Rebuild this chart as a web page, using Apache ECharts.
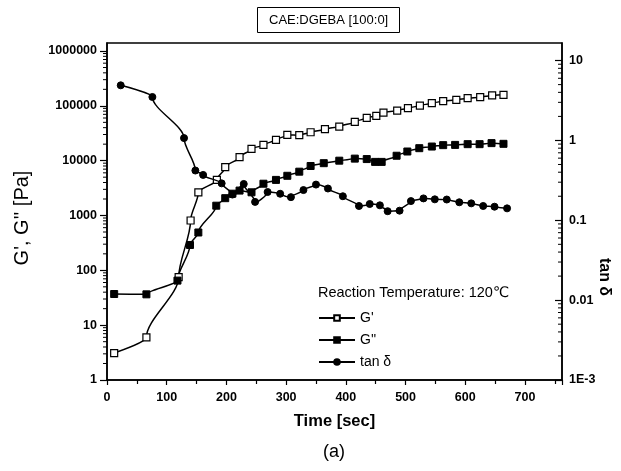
<!DOCTYPE html>
<html><head><meta charset="utf-8">
<script src="https://cdn.jsdelivr.net/npm/echarts@6/dist/echarts.min.js"></script>
<style>html,body{margin:0;padding:0;background:#fff}#c{width:621px;height:471px}</style>
</head><body><div id="c"></div>
<script>
// ---- data ----
const gPrimeTime = [12, 66, 120, 140, 153, 184, 198, 222, 242, 262, 283, 302, 322, 341, 365, 389, 415, 435, 451, 463, 486, 504, 524, 544, 563, 585, 604, 625, 645, 664];
const gPrime = [3.1, 6.0, 75, 810, 2650, 4450, 7600, 11600, 16400, 19400, 24000, 29500, 29200, 33000, 37600, 41900, 51000, 60400, 65700, 75400, 82000, 90800, 101000, 112000, 122000, 129000, 138000, 144000, 155000, 159000];

const gDoubleTime = [12, 66, 118, 139, 153, 183, 198, 210, 222, 242, 262, 283, 302, 322, 341, 363, 389, 415, 435, 449, 460, 485, 503, 523, 544, 563, 583, 604, 624, 644, 664];
const gDouble = [37, 36.5, 65, 290, 490, 1510, 2070, 2500, 2850, 2650, 3800, 4460, 5300, 6300, 8000, 9000, 10000, 10900, 10700, 9500, 9500, 12300, 14700, 16900, 18100, 19200, 19400, 20000, 20000, 20900, 20300];

const tanTime = [23, 76, 129, 148, 161, 192, 210, 229, 248, 269, 290, 308, 329, 350, 370, 395, 422, 440, 457, 470, 490, 509, 530, 549, 569, 590, 610, 630, 649, 670];
const tanDelta = [4.9, 3.5, 1.07, 0.42, 0.37, 0.29, 0.21, 0.285, 0.17, 0.226, 0.215, 0.195, 0.239, 0.28, 0.25, 0.2, 0.151, 0.16, 0.154, 0.13, 0.132, 0.174, 0.188, 0.183, 0.182, 0.168, 0.163, 0.151, 0.148, 0.141];

const seriesNames = ["G'", "G''", "tan \u03b4"];
const xTickLabels = [0, 100, 200, 300, 400, 500, 600, 700];
const leftTickLabels = ['1', '10', '100', '1000', '10000', '100000', '1000000'];
const rightTickLabels = ['1E-3', '0.01', '0.1', '1', '10'];
const leftMinor = [];
for (let k = 0; k <= 5; k++) for (let m = 2; m <= 9; m++) leftMinor.push(m * Math.pow(10, k));
const rightMinor = [];
for (let k = -3; k <= 0; k++) for (let m = 2; m <= 9; m++) rightMinor.push(+(m * Math.pow(10, k)).toPrecision(3));

const X_MAX = 762;
const FONT = '"Liberation Sans", Arial, "DejaVu Sans", sans-serif';

function pairs(xs, ys) { return xs.map((x, i) => [x, ys[i]]); }
function logLabel(v, labels, minExp) {
  const e = Math.round(Math.log10(v));
  if (Math.abs(Math.log10(v) - e) > 1e-6) return '';
  return labels[e - minExp] || '';
}
function minorTick(params, api) {
  const p = api.coord([api.value(0), api.value(1)]);
  return { type: 'line', shape: { x1: p[0], y1: p[1], x2: p[0] - 4, y2: p[1] }, style: { stroke: '#000', lineWidth: 1 } };
}
const tickLabelStyle = { fontSize: 12.5, fontWeight: 'bold', color: '#000', fontFamily: FONT };

const chart = echarts.init(document.getElementById('c'), null, { renderer: 'canvas' });
chart.setOption({
  animation: false,
  backgroundColor: '#fff',
  textStyle: { fontFamily: FONT, color: '#000' },
  title: {
    text: 'CAE:DGEBA [100:0]', left: 257, top: 7,
    borderWidth: 1, borderColor: '#000', padding: [7, 12, 6, 12],
    textStyle: { fontSize: 13, fontWeight: 'normal', color: '#000', fontFamily: FONT }
  },
  grid: { left: 107, right: 59, top: 43, bottom: 91, show: true, borderColor: '#000', borderWidth: 1.5, backgroundColor: 'transparent' },
  legend: {
    data: seriesNames, orient: 'vertical', left: 318, top: 311, padding: 0,
    itemWidth: 36, itemHeight: 7, itemGap: 8,
    textStyle: { fontSize: 14, color: '#000', fontFamily: FONT }
  },
  graphic: [
    { type: 'text', left: 318, top: 285, style: { text: 'Reaction Temperature: 120\u2103', fontSize: 14.5, fill: '#000', fontFamily: FONT } },
    { type: 'text', left: 323, top: 443, style: { text: '(a)', fontSize: 18, fill: '#000', fontFamily: FONT } },
    { type: 'text', x: 22, y: 218, rotation: Math.PI / 2,
      style: { text: "G', G'' [Pa]", fontSize: 20, fill: '#000', fontFamily: FONT, align: 'center', verticalAlign: 'middle' } },
    { type: 'text', x: 604, y: 277, rotation: -Math.PI / 2,
      style: { text: 'tan \u03b4', fontSize: 16, fontWeight: 'bold', fill: '#000', fontFamily: FONT, align: 'center', verticalAlign: 'middle' } }
  ],
  xAxis: {
    type: 'value', min: 0, max: X_MAX, interval: 100,
    name: 'Time [sec]', nameLocation: 'middle', nameGap: 33,
    nameTextStyle: { fontSize: 16.5, fontWeight: 'bold', color: '#000', fontFamily: FONT },
    axisLine: { lineStyle: { color: '#000', width: 1.5 } },
    axisTick: { inside: false, length: 5, lineStyle: { color: '#000', width: 1.2 } },
    minorTick: { show: true, splitNumber: 2, length: 4, lineStyle: { color: '#000', width: 1.2 } },
    splitLine: { show: false },
    axisLabel: Object.assign({ showMaxLabel: false, margin: 11,
      formatter: v => xTickLabels.indexOf(v) >= 0 ? String(v) : '' }, tickLabelStyle)
  },
  yAxis: [
    {
      type: 'log', logBase: 10, min: 1, max: 1.4e6, position: 'left',
      axisLine: { show: true, lineStyle: { color: '#000', width: 1.5 } },
      axisTick: { inside: false, length: 7, lineStyle: { color: '#000', width: 1.2 } },
      splitLine: { show: false },
      axisLabel: Object.assign({ showMaxLabel: false, margin: 10,
        formatter: v => logLabel(v, leftTickLabels, 0) }, tickLabelStyle)
    },
    {
      type: 'log', logBase: 10, min: 0.001, max: 16.6, position: 'right',
      axisLine: { show: true, lineStyle: { color: '#000', width: 1.5 } },
      axisTick: { inside: true, length: 7, lineStyle: { color: '#000', width: 1.2 } },
      splitLine: { show: false },
      axisLabel: Object.assign({ showMaxLabel: false, margin: 7,
        formatter: v => logLabel(v, rightTickLabels, -3) }, tickLabelStyle)
    }
  ],
  series: [
    {
      name: "G'", type: 'line', yAxisIndex: 0, data: pairs(gPrimeTime, gPrime),
      symbol: 'rect', symbolSize: 7, smooth: 0.3, smoothMonotone: 'y',
      itemStyle: { color: '#fff', borderColor: '#000', borderWidth: 1.2 },
      lineStyle: { color: '#000', width: 1.5 }, z: 3
    },
    {
      name: "G''", type: 'line', yAxisIndex: 0, data: pairs(gDoubleTime, gDouble),
      symbol: 'rect', symbolSize: 7, smooth: 0.3, smoothMonotone: 'y',
      itemStyle: { color: '#000', borderColor: '#000', borderWidth: 1 },
      lineStyle: { color: '#000', width: 1.5 }, z: 3
    },
    {
      name: 'tan \u03b4', type: 'line', yAxisIndex: 1, data: pairs(tanTime, tanDelta),
      symbol: 'circle', symbolSize: 7, smooth: 0.3, smoothMonotone: 'y',
      itemStyle: { color: '#000', borderColor: '#000', borderWidth: 1 },
      lineStyle: { color: '#000', width: 1.5 }, z: 4
    },
    {
      type: 'custom', yAxisIndex: 0, silent: true, clip: false,
      data: leftMinor.map(v => [0, v]), renderItem: minorTick
    },
    {
      type: 'custom', yAxisIndex: 1, silent: true, clip: false,
      data: rightMinor.map(v => [X_MAX, v]), renderItem: minorTick
    }
  ]
});
</script>
</body></html>
